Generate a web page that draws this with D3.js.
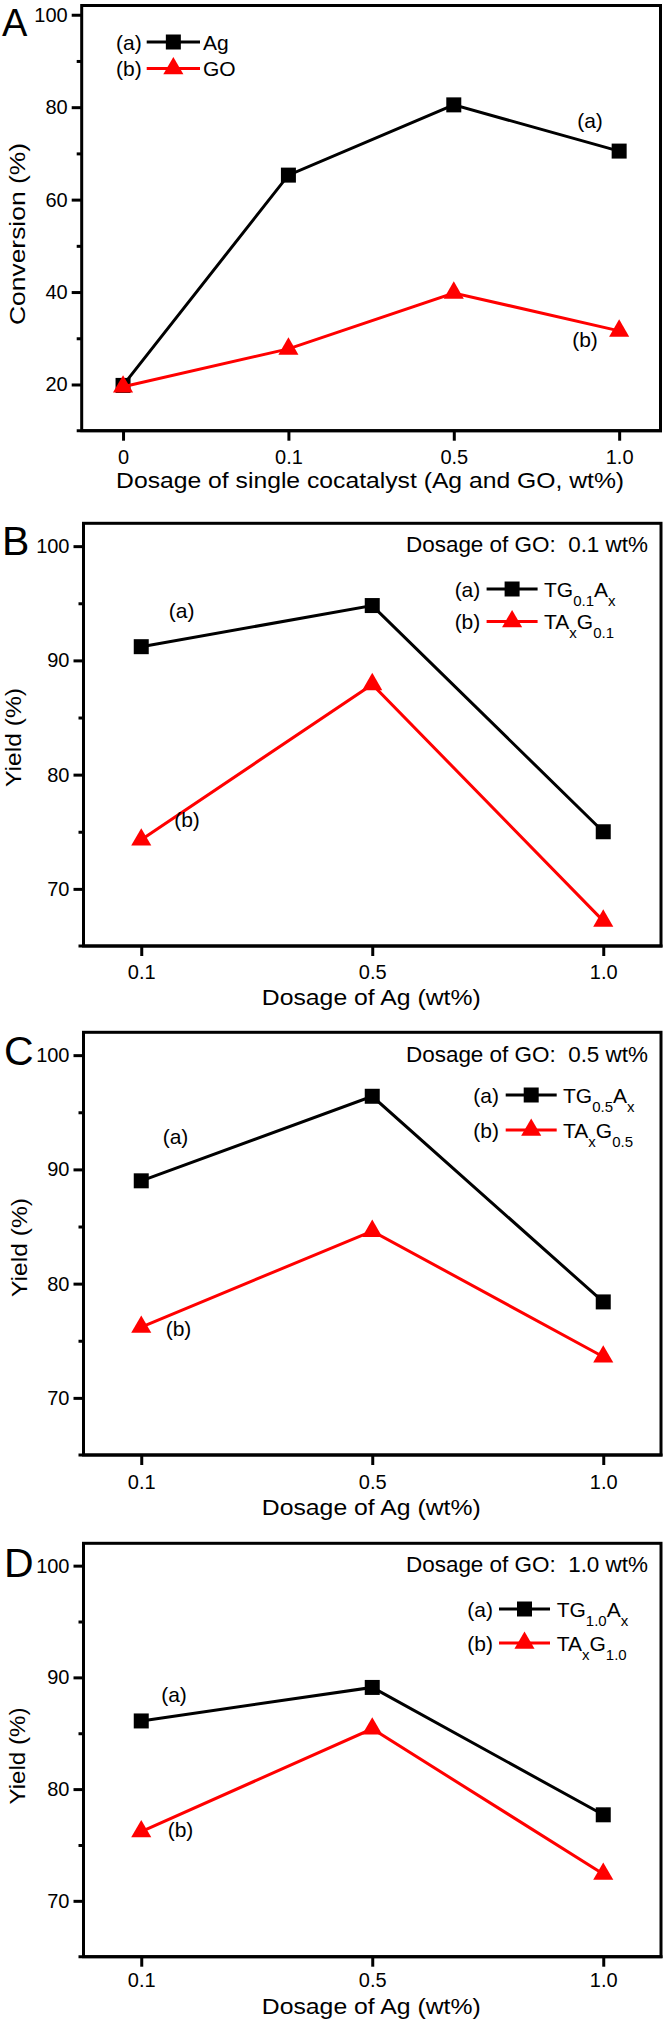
<!DOCTYPE html>
<html><head><meta charset="utf-8">
<script src="https://cdn.jsdelivr.net/npm/d3@7"></script>
<style>
html,body{margin:0;padding:0;background:#fff;}
svg{display:block;}
text{font-family:"Liberation Sans",Arial,Helvetica,sans-serif;fill:#000;}
</style></head><body>
<svg id="c" width="665" height="2035"></svg>
<script>
// ---------------- data ----------------
const catsA = ["0", "0.1", "0.5", "1.0"];
const convAg = [19.8, 65.3, 80.5, 70.5];
const convGO = [19.5, 27.7, 39.8, 31.6];

const catsAg = ["0.1", "0.5", "1.0"];
const yieldTG01 = [91.2, 94.8, 75.0];
const yieldTA01 = [74.3, 87.9, 67.2];
const yieldTG05 = [89.0, 96.4, 78.4];
const yieldTA05 = [76.2, 84.6, 73.6];
const yieldTG10 = [86.1, 89.1, 77.7];
const yieldTA10 = [76.2, 85.4, 72.4];

const yMajorA = [20, 40, 60, 80, 100];
const yMinorA = [30, 50, 70, 90];
const yMajorY = [70, 80, 90, 100];
const yMinorY = [75, 85, 95];

const letters = ["A", "B", "C", "D"];
const goDoses = ["0.1", "0.5", "1.0"];
const xTitleA = "Dosage of single cocatalyst (Ag and GO, wt%)";
const xTitleY = "Dosage of Ag (wt%)";
const yTitleA = "Conversion (%)";
const yTitleY = "Yield (%)";

const legendA = [[["Ag", ""]], [["GO", ""]]];
function legTG(d) { return [["TG", ""], [d, "sub"], ["A", ""], ["x", "sub"]]; }
function legTA(d) { return [["TA", ""], ["x", "sub"], ["G", ""], [d, "sub"]]; }

// ---------------- panels ----------------
const panels = [
  {letter: letters[0], cats: catsA, domain: [10, 102], major: yMajorA, minor: yMinorA,
   s1: convAg, s2: convGO, leg: legendA, note: null, xTitle: xTitleA, yTitle: yTitleA,
   L: {top: 5.5, bottom: 430.7, left: 81.7, right: 660.5, tickPad: 8.8,
       xTitleY: 488, xTitleLen: 508, yTitleX: 25.4, yTitleY: 234, yTitleLen: 182,
       letterX: 2, letterY: 36, letterFs: 38,
       lg: {labelRight: 141.7, l1: 146.7, l2: 200, tx: 203, rows: [42, 68.5]},
       ann: [[590, 122], [585, 341.7]]}},
  {letter: letters[1], cats: catsAg, domain: [65, 102], major: yMajorY, minor: yMinorY,
   s1: yieldTG01, s2: yieldTA01, leg: [legTG(goDoses[0]), legTA(goDoses[0])], note: goDoses[0],
   xTitle: xTitleY, yTitle: yTitleY,
   L: {top: 523.3, bottom: 946, left: 83.5, right: 661, tickPad: 8.6,
       xTitleY: 1005, xTitleLen: 219, yTitleX: 21, yTitleY: 737.5, yTitleLen: 99,
       letterX: 2, letterY: 555, letterFs: 41, noteY: 552,
       lg: {labelRight: 480.3, l1: 486.6, l2: 537.6, tx: 544, rows: [589, 621.5]},
       ann: [[181.7, 612.5], [187, 821]]}},
  {letter: letters[2], cats: catsAg, domain: [65, 102], major: yMajorY, minor: yMinorY,
   s1: yieldTG05, s2: yieldTA05, leg: [legTG(goDoses[1]), legTA(goDoses[1])], note: goDoses[1],
   xTitle: xTitleY, yTitle: yTitleY,
   L: {top: 1032.3, bottom: 1455, left: 83.5, right: 661, tickPad: 9.5,
       xTitleY: 1515, xTitleLen: 219, yTitleX: 27, yTitleY: 1247.5, yTitleLen: 99,
       letterX: 4, letterY: 1065, letterFs: 41, noteY: 1062,
       lg: {labelRight: 499, l1: 505.7, l2: 556.7, tx: 563, rows: [1095, 1130]},
       ann: [[175.5, 1138], [178.5, 1330]]}},
  {letter: letters[3], cats: catsAg, domain: [65, 102], major: yMajorY, minor: yMinorY,
   s1: yieldTG10, s2: yieldTA10, leg: [legTG(goDoses[2]), legTA(goDoses[2])], note: goDoses[2],
   xTitle: xTitleY, yTitle: yTitleY,
   L: {top: 1543.3, bottom: 1956.7, left: 83.5, right: 661, tickPad: 6.2,
       xTitleY: 2014, xTitleLen: 219, yTitleX: 25, yTitleY: 1756, yTitleLen: 97,
       letterX: 4, letterY: 1577, letterFs: 41, noteY: 1572,
       lg: {labelRight: 493, l1: 499, l2: 550, tx: 556.7, rows: [1609, 1643]},
       ann: [[174, 1696], [180.5, 1831.7]]}}
];

const svg = d3.select("#c");
const RED = "#ff0000", BLACK = "#000000";
const sq = d3.symbol().type(d3.symbolSquare).size(225);
const tri = d3.symbol().type(d3.symbolTriangle).size(175);

function styleAxis(sel, fs) {
  sel.select(".domain").remove();
  sel.selectAll(".tick line").attr("stroke", "#000").attr("stroke-width", 3);
  sel.selectAll(".tick text").attr("font-size", fs).attr("fill", "#000")
    .attr("font-family", '"Liberation Sans",Arial,sans-serif');
  sel.attr("font-family", null).attr("font-size", null);
}

function rich(g, parts, x, y, fs, subFs, subDy) {
  const t = g.append("text").attr("x", x).attr("y", y).attr("font-size", fs);
  let prevSub = false;
  parts.forEach(([s, kind]) => {
    const isSub = kind === "sub";
    const ts = t.append("tspan").text(s).attr("font-size", isSub ? subFs : fs);
    if (isSub && !prevSub) ts.attr("dy", subDy);
    if (!isSub && prevSub) ts.attr("dy", -subDy);
    prevSub = isSub;
  });
  return t;
}

panels.forEach(p => {
  const L = p.L;
  const g = svg.append("g");
  const x = d3.scalePoint().domain(p.cats).range([L.left, L.right]).padding(0.25);
  const y = d3.scaleLinear().domain(p.domain).range([L.bottom, L.top]);

  // axes
  g.append("g").attr("transform", `translate(${L.left},0)`)
    .call(d3.axisLeft(y).tickValues(p.minor).tickSize(5).tickFormat(""))
    .call(s => styleAxis(s, 20));
  g.append("g").attr("transform", `translate(${L.left},0)`)
    .call(d3.axisLeft(y).tickValues(p.major).tickSize(10).tickPadding(4).tickFormat(d3.format("d")))
    .call(s => styleAxis(s, 20));
  g.append("g").attr("transform", `translate(0,${L.bottom})`)
    .call(d3.axisBottom(x).tickSize(10).tickPadding(L.tickPad))
    .call(s => styleAxis(s, 20));

  // frame
  g.append("rect").attr("x", L.left).attr("y", L.top)
    .attr("width", L.right - L.left).attr("height", L.bottom - L.top)
    .attr("fill", "none").attr("stroke", "#000").attr("stroke-width", 3);
  g.append("line").attr("x1", L.left - 5).attr("x2", L.right + 1.5)
    .attr("y1", L.bottom).attr("y2", L.bottom)
    .attr("stroke", "#000").attr("stroke-width", 3);

  // series
  const line = d3.line().x((d, i) => x(p.cats[i])).y(d => y(d));
  [[p.s1, BLACK, sq], [p.s2, RED, tri]].forEach(([vals, col, sym]) => {
    g.append("path").datum(vals).attr("d", line).attr("fill", "none")
      .attr("stroke", col).attr("stroke-width", 3).attr("stroke-linejoin", "miter");
    g.selectAll(null).data(vals).enter().append("path")
      .attr("d", sym)
      .attr("transform", (d, i) => `translate(${x(p.cats[i])},${y(d)})`)
      .attr("fill", col);
  });

  // annotations (a) (b)
  ["(a)", "(b)"].forEach((s, i) => {
    g.append("text").attr("x", L.ann[i][0]).attr("y", L.ann[i][1] + 5.5)
      .attr("text-anchor", "middle").attr("font-size", 21).text(s);
  });

  // legend
  const lg = L.lg;
  [["(a)", BLACK, sq], ["(b)", RED, tri]].forEach(([lab, col, sym], i) => {
    const ry = lg.rows[i];
    g.append("text").attr("x", lg.labelRight).attr("y", ry + 7.5)
      .attr("text-anchor", "end").attr("font-size", 21).text(lab);
    g.append("line").attr("x1", lg.l1).attr("x2", lg.l2).attr("y1", ry).attr("y2", ry)
      .attr("stroke", col).attr("stroke-width", 3);
    g.append("path").attr("d", sym)
      .attr("transform", `translate(${(lg.l1 + lg.l2) / 2},${ry})`).attr("fill", col);
    rich(g, p.leg[i], lg.tx, ry + 7.5, 21, 15, 9);
  });

  // note
  if (p.note) {
    g.append("text").attr("x", 648).attr("y", L.noteY).attr("text-anchor", "end")
      .attr("font-size", 22).style("white-space", "pre")
      .attr("textLength", 242).attr("lengthAdjust", "spacingAndGlyphs")
      .text(`Dosage of GO:  ${p.note} wt%`);
  }

  // titles
  g.append("text").attr("x", (L.left + L.right) / 2 - 1).attr("y", L.xTitleY)
    .attr("text-anchor", "middle").attr("font-size", 22)
    .attr("textLength", L.xTitleLen).attr("lengthAdjust", "spacingAndGlyphs")
    .text(p.xTitle);
  g.append("text").attr("transform", `translate(${L.yTitleX},${L.yTitleY}) rotate(-90)`)
    .attr("text-anchor", "middle").attr("font-size", 22)
    .attr("textLength", L.yTitleLen).attr("lengthAdjust", "spacingAndGlyphs")
    .text(p.yTitle);

  // panel letter
  g.append("text").attr("x", L.letterX).attr("y", L.letterY)
    .attr("font-size", L.letterFs).text(p.letter);
});
</script>
</body></html>
